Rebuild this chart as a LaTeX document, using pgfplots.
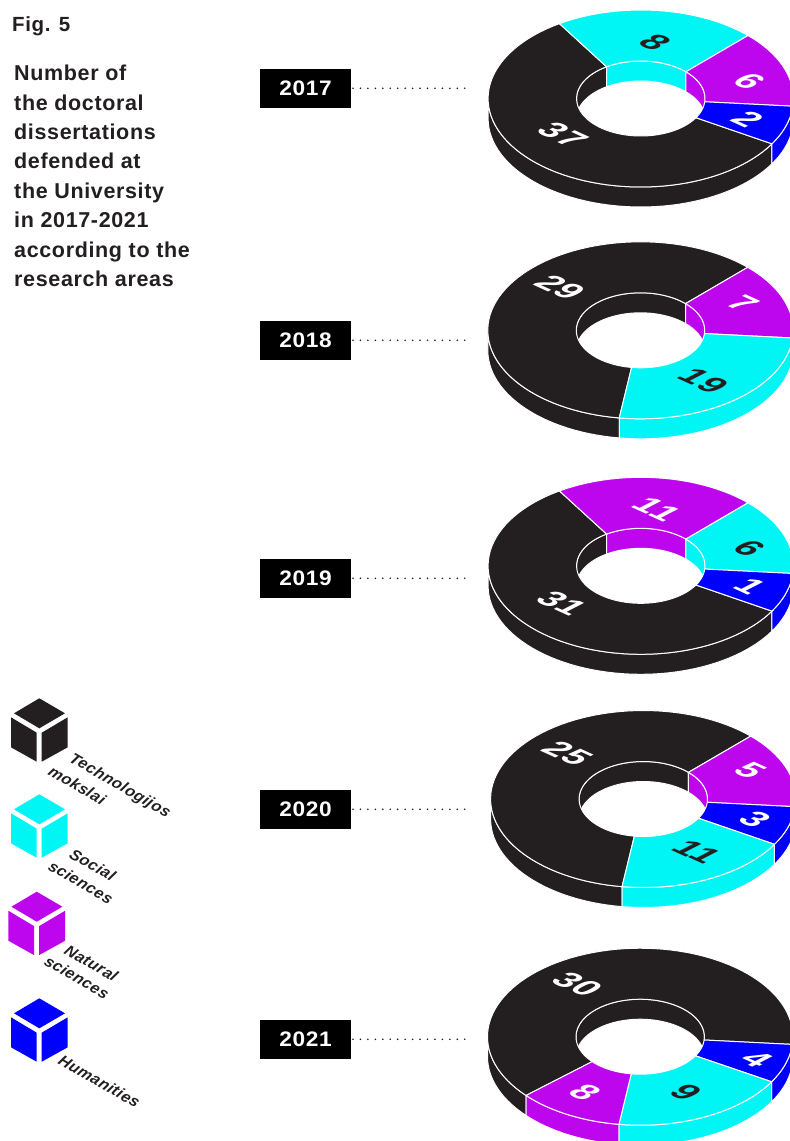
\documentclass[border=0pt]{standalone}
\usepackage{fontspec}
\usepackage{pgfplots}
\pgfplotsset{compat=1.18}
\setmainfont{Liberation Sans}[LetterSpace=3]
\definecolor{ink}{HTML}{231F20}
\definecolor{cy}{HTML}{00F5F5}
\definecolor{pu}{HTML}{BE06EE}
\definecolor{bl}{HTML}{0000FF}
\newcommand\rO{152.7}\newcommand\eO{88.5}
\newcommand\rI{64.2}\newcommand\eI{37.5}
\newcommand\dd{20}
\newcommand\arcpts[6]{%
  \pgfmathtruncatemacro\nn{max(2,ceil(abs(#6-#5)/3))}%
  \foreach \i in {0,...,\nn}{%
    \pgfmathsetmacro\myt{#5+(#6-#5)*(\i/\nn)}%
    \pgfmathsetmacro\px{#1+#3*cos(\myt)}%
    \pgfmathsetmacro\py{#2+#4*sin(\myt)}%
    \xdef\pts{\pts (\px,\py)}%
  }}
\newcommand\poly[1]{%
  \edef\tmp{\noexpand\addplot[fill=#1,draw=white,line width=1pt,line join=round] coordinates {\pts} -- cycle;}\tmp}
\newcommand\polyN[1]{%
  \edef\tmp{\noexpand\addplot[fill=#1,draw=none] coordinates {\pts} -- cycle;}\tmp}
\newcommand\wall[7]{% cx cy rx ry s e col
  \ifdim #5 pt<#6 pt
    \gdef\pts{}%
    \pgfmathsetmacro\ybot{#2+\dd}%
    \arcpts{#1}{#2}{#3}{#4}{#5}{#6}%
    \arcpts{#1}{\ybot}{#3}{#4}{#6}{#5}%
    \poly{#7}%
  \fi}
\newcommand\donut[3]{% cx cy list of a0/a1/colour
  \foreach \a/\b/\c in {#3}{%
    \pgfmathsetmacro\s{max(\a,180)}\pgfmathsetmacro\e{min(\b,360)}%
    \wall{#1}{#2}{\rI}{\eI}{\s}{\e}{\c}}%
  \foreach \a/\b/\c in {#3}{%
    \pgfmathsetmacro\s{max(\a,0)}\pgfmathsetmacro\e{min(\b,180)}%
    \wall{#1}{#2}{\rO}{\eO}{\s}{\e}{\c}%
    \pgfmathsetmacro\s{max(\a,360)}\pgfmathsetmacro\e{min(\b,540)}%
    \wall{#1}{#2}{\rO}{\eO}{\s}{\e}{\c}}%
  \foreach \a/\b/\c in {#3}{%
    \gdef\pts{}%
    \arcpts{#1}{#2}{\rO}{\eO}{\a}{\b}%
    \arcpts{#1}{#2}{\rI}{\eI}{\b}{\a}%
    \poly{\c}}%
}
\newcommand\addP[2]{%
  \pgfmathsetmacro\px{\ox+#1}\pgfmathsetmacro\py{\oy+#2}\xdef\pts{\pts (\px,\py)}}
\newcommand\cube[3]{\def\ox{#1}\def\oy{#2}%
  \gdef\pts{}\addP{0}{0}\addP{25.7}{15}\addP{0}{30}\addP{-25.3}{15}\polyN{#3}%
  \gdef\pts{}\addP{-28.3}{19}\addP{-2.6}{34.4}\addP{-2.6}{63.4}\addP{-28.3}{49}\polyN{#3}%
  \gdef\pts{}\addP{28.4}{19}\addP{2.4}{34.4}\addP{2.4}{63.4}\addP{28.4}{49}\polyN{#3}}
\newcommand\yearbox[3]{% x0 y0 label
  \pgfmathsetmacro\yb{#2+39}\pgfmathsetmacro\ym{#2+19.3}\pgfmathsetmacro\xb{#1+91}%
  \edef\tmp{\noexpand\addplot[fill=black,draw=none] coordinates {(#1,#2) (\xb,#2) (\xb,\yb) (#1,\yb)} -- cycle;
  \noexpand\addplot[draw=ink,line width=1.8pt,line cap=round,dash pattern=on 0pt off 7.45pt] coordinates {(353,\ym) (465,\ym)};
  \noexpand\node[text=white,xscale=1.08,inner sep=0] at (305.5,\ym) {\noexpand\fontsize{21}{21}\noexpand\selectfont\noexpand\bfseries #3};}\tmp}
\newcommand\val[4]{\node[text=#3,inner sep=0,cm={2.2,-1.0,2.05,1.05,(0,0)}] at (#1,#2) {\fontsize{14.5}{14.5}\selectfont\bfseries #4};}
\newcommand\lab[3]{\node[text=ink,anchor=base west,inner sep=0,cm={.865,-.5,.55,.8,(0,0)}] at (#1,#2) {\fontsize{16}{16}\selectfont\bfseries\itshape #3};}
\newcommand\ttl[3]{\node[text=ink,anchor=base west,inner sep=0] at (#1,#2) {\fontsize{21.5}{21.5}\selectfont\bfseries #3};}
\begin{document}
\begin{tikzpicture}
\useasboundingbox (0,0) rectangle (790pt,1141pt);
\begin{axis}[scale only axis,width=790pt,height=1141pt,xmin=0,xmax=790,ymin=0,ymax=1141,
  y dir=reverse,hide axis,no markers,enlargelimits=false]
% 2017: 37 technology, 8 social, 6 natural, 2 humanities
\donut{640.8}{98.5}{30.8/237.8/ink,237.8/314.6/cy,314.6/365/pu,5/30.8/bl}
\val{655}{42.7}{ink}{8}\val{749.3}{81.7}{white}{6}\val{747.7}{119.3}{white}{2}\val{562.7}{135}{white}{37}
% 2018
\donut{640.5}{330.3}{98/314.6/ink,314.6/365/pu,5/98/cy}
\val{560}{287.3}{white}{29}\val{742.7}{303.3}{white}{7}\val{703.3}{380.7}{ink}{19}
% 2019
\donut{640.8}{565.8}{30.8/237.8/ink,237.8/314.6/pu,314.6/365/cy,5/30.8/bl}
\val{656.7}{509.3}{white}{11}\val{749.3}{548.3}{ink}{6}\val{750}{586.7}{white}{1}\val{561.7}{603.3}{white}{31}
% 2020
\donut{643.3}{799}{98/314.7/ink,314.7/365/pu,5/30.8/bl,30.8/98/cy}
\val{567.3}{753.3}{white}{25}\val{750}{770.7}{white}{5}\val{755}{819.3}{white}{3}\val{696.7}{851.7}{ink}{11}
% 2021
\donut{640.2}{1036.7}{138.4/365/ink,5/30.6/bl,30.6/98/cy,98/138.4/pu}
\val{577.3}{984.3}{white}{30}\val{756.7}{1059}{white}{4}\val{686}{1092.7}{ink}{9}\val{585}{1092.7}{white}{8}
% year tags
\yearbox{260}{69}{2017}
\yearbox{260}{321}{2018}
\yearbox{260}{559}{2019}
\yearbox{260}{790}{2020}
\yearbox{260}{1020}{2021}
% legend
\cube{39.3}{698.3}{ink}
\cube{39.3}{794.3}{cy}
\cube{36.7}{891.7}{pu}
\cube{39.3}{998.3}{bl}
\lab{68}{761}{Technologijos}
\lab{47}{774}{mokslai}
\lab{68}{857}{Social}
\lab{47}{869}{sciences}
\lab{63}{953}{Natural}
\lab{43}{964}{sciences}
\lab{57}{1063}{Humanities}
% titles
\node[text=ink,anchor=base west,inner sep=0] at (12,31.7) {\fontsize{20.5}{20.5}\selectfont\bfseries Fig. 5};
\ttl{14}{80.7}{Number of}
\ttl{14}{110.2}{the doctoral}
\ttl{14}{139.5}{dissertations}
\ttl{14}{168.9}{defended at}
\ttl{14}{198.3}{the University}
\ttl{14}{227.6}{in 2017-2021}
\ttl{14}{257}{according to the}
\ttl{14}{286.4}{research areas}
\end{axis}
\end{tikzpicture}
\end{document}
